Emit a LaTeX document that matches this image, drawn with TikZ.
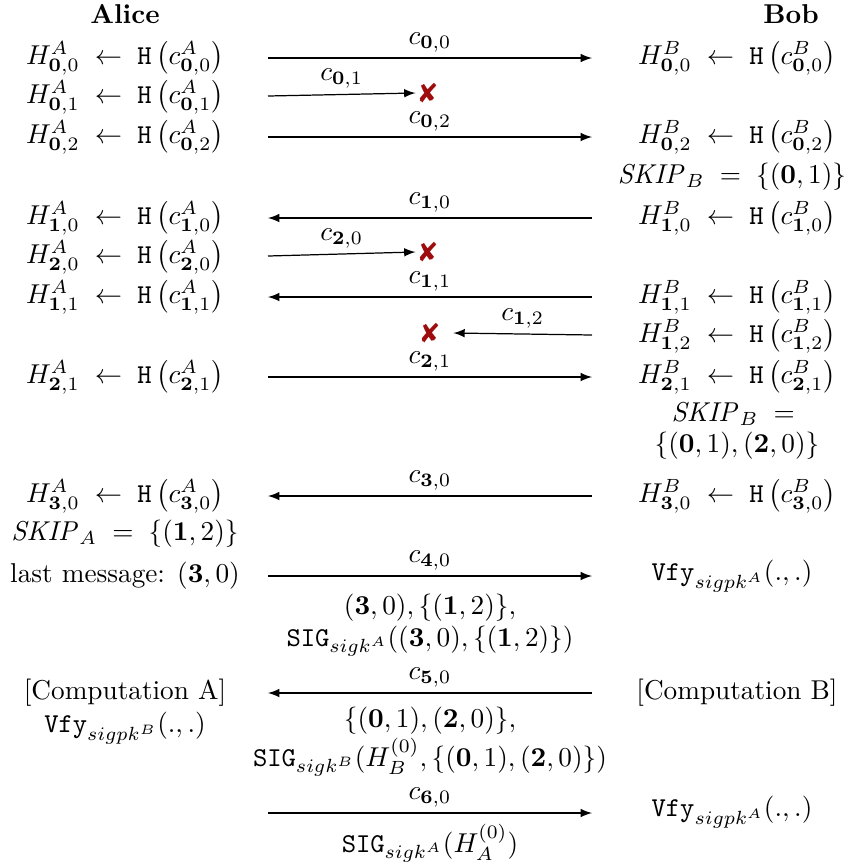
\documentclass[tikz,border=0pt]{standalone}
\usepackage{amsmath}
\usepackage{pifont}

\definecolor{dropred}{rgb}{0.62,0.05,0.05}

\tikzset{
  msg/.style={-latex, line width=0.45pt},
  lbl/.style={inner sep=2pt},
  drop/.style={text=dropred, inner sep=1pt},
}

\newcommand{\hsh}[2]{$H^{#1}_{#2} \;\leftarrow\; \mathtt{H}\left(c^{#1}_{#2}\right)$}
\newcommand{\bz}{\mathbf{0}}

\begin{document}
\begin{tikzpicture}[x=0.0129cm, y=-0.0129cm]

  \useasboundingbox (0,0) rectangle (845,866);

  % --- parties ---
  \node[font=\bfseries] (alice) at (125,14) {Alice};
  \node[font=\bfseries] (bob)   at (791,14) {Bob};

  % --- epoch 0 (Alice sends) ---
  \node (a00) at (125,58)  {\hsh{A}{\bz,0}};
  \node (b00) at (737,58)  {\hsh{B}{\bz,0}};
  \node (a01) at (125,97)  {\hsh{A}{\bz,1}};
  \node (a02) at (125,137) {\hsh{A}{\bz,2}};
  \node (b02) at (737,137) {\hsh{B}{\bz,2}};
  \node (skb1) at (732,177) {$\mathit{SKIP}_B \;=\; \{(\bz,1)\}$};

  \coordinate (l00) at (268,58);  \coordinate (r00) at (592,58);
  \coordinate (l01) at (268,96);
  \coordinate (l02) at (268,137); \coordinate (r02) at (592,137);
  \node[drop] (x01) at (428,93) {\ding{56}};

  \draw[msg] (l00) -- (r00) node[lbl, midway, above] {$c_{\bz,0}$};
  \draw[msg] (l01) -- (x01.west) node[lbl, midway, above] {$c_{\bz,1}$};
  \draw[msg] (l02) -- (r02) node[lbl, midway, above] {$c_{\bz,2}$};

  % --- epochs 1 and 2 ---
  \node (a10) at (125,218) {\hsh{A}{\mathbf{1},0}};
  \node (b10) at (737,218) {\hsh{B}{\mathbf{1},0}};
  \node (a20) at (125,257) {\hsh{A}{\mathbf{2},0}};
  \node (a11) at (125,297) {\hsh{A}{\mathbf{1},1}};
  \node (b11) at (737,297) {\hsh{B}{\mathbf{1},1}};
  \node (b12) at (737,336) {\hsh{B}{\mathbf{1},2}};
  \node (a21) at (125,377) {\hsh{A}{\mathbf{2},1}};
  \node (b21) at (737,377) {\hsh{B}{\mathbf{2},1}};
  \node (skb2) at (737,414) {$\mathit{SKIP}_B \;=\;$};
  \node (skb3) at (737,446) {$\{(\bz,1),(\mathbf{2},0)\}$};

  \coordinate (l10) at (268,218); \coordinate (r10) at (592,218);
  \coordinate (l20) at (268,256);
  \coordinate (l11) at (268,297); \coordinate (r11) at (592,297);
  \coordinate (r12) at (592,335);
  \coordinate (l21) at (268,377); \coordinate (r21) at (592,377);
  \node[drop] (x20) at (428,252) {\ding{56}};
  \node[drop] (x12) at (430,333) {\ding{56}};

  \draw[msg] (r10) -- (l10) node[lbl, midway, above] {$c_{\mathbf{1},0}$};
  \draw[msg] (l20) -- (x20.west) node[lbl, midway, above] {$c_{\mathbf{2},0}$};
  \draw[msg] (r11) -- (l11) node[lbl, midway, above] {$c_{\mathbf{1},1}$};
  \draw[msg] (r12) -- ([xshift=4]x12.east) node[lbl, midway, above] {$c_{\mathbf{1},2}$};
  \draw[msg] (l21) -- (r21) node[lbl, midway, above] {$c_{\mathbf{2},1}$};

  % --- epoch 3 and the signed skip sets ---
  \node (a30) at (125,496) {\hsh{A}{\mathbf{3},0}};
  \node (b30) at (737,496) {\hsh{B}{\mathbf{3},0}};
  \node (ska) at (125,534) {$\mathit{SKIP}_A \;=\; \{(\mathbf{1},2)\}$};
  \node (last) at (125,576) {last message: $(\mathbf{3},0)$};
  \node (vfyb) at (732,576) {$\mathtt{Vfy}_{sigpk^A}(.,.)$};
  \node (m4a) at (430,608) {$(\mathbf{3},0),\{(\mathbf{1},2)\},$};
  \node (m4b) at (430,641) {$\mathtt{SIG}_{sigk^A}((\mathbf{3},0),\{(\mathbf{1},2)\})$};

  \coordinate (l30) at (268,496); \coordinate (r30) at (592,496);
  \coordinate (l40) at (268,576); \coordinate (r40) at (592,576);

  \draw[msg] (r30) -- (l30) node[lbl, midway, above] {$c_{\mathbf{3},0}$};
  \draw[msg] (l40) -- (r40) node[lbl, midway, above] {$c_{\mathbf{4},0}$};

  % --- final exchange ---
  \node (compa) at (125,693) {[Computation A]};
  \node (compb) at (737,693) {[Computation B]};
  \node (vfya) at (125,728) {$\mathtt{Vfy}_{sigpk^B}(.,.)$};
  \node (m5a) at (430,721) {$\{(\bz,1),(\mathbf{2},0)\},$};
  \node (m5b) at (430,757) {$\mathtt{SIG}_{sigk^B}(H_B^{(0)},\{(\bz,1),(\mathbf{2},0)\})$};
  \node (vfyb2) at (732,812) {$\mathtt{Vfy}_{sigpk^A}(.,.)$};
  \node (m6) at (430,843) {$\mathtt{SIG}_{sigk^A}(H_A^{(0)})$};

  \coordinate (l50) at (268,693); \coordinate (r50) at (592,693);
  \coordinate (l60) at (268,813); \coordinate (r60) at (592,813);

  \draw[msg] (r50) -- (l50) node[lbl, midway, above] {$c_{\mathbf{5},0}$};
  \draw[msg] (l60) -- (r60) node[lbl, midway, above] {$c_{\mathbf{6},0}$};

\end{tikzpicture}
\end{document}
